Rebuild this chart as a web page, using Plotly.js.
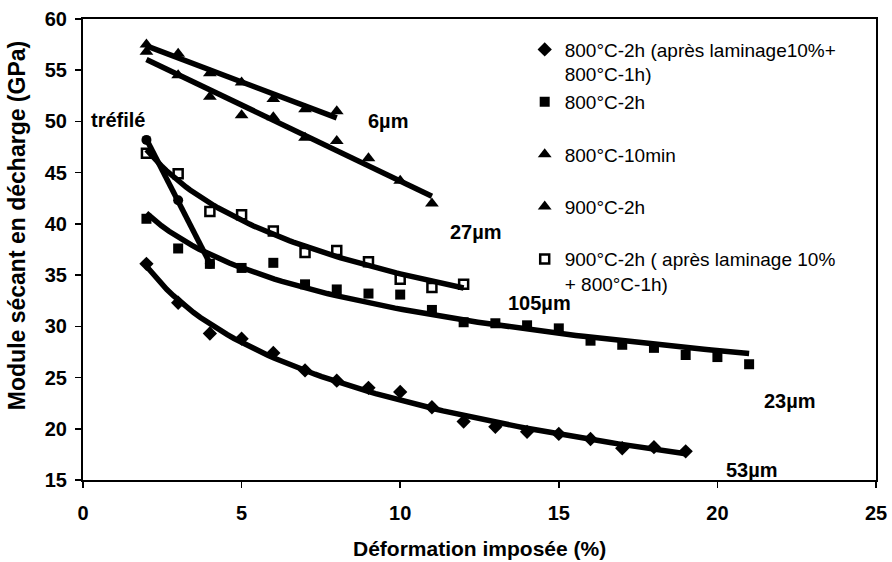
<!DOCTYPE html>
<html>
<head>
<meta charset="utf-8">
<script src="https://cdn.plot.ly/plotly-3.0.1.min.js"></script>
<style>html,body{margin:0;padding:0;background:#fff;}#chart{width:892px;height:562px;}</style>
</head>
<body>
<div id="chart"></div>
<script>
// ---- data ----
const diamondX = [2,3,4,5,6,7,8,9,10,11,12,13,14,15,16,17,18,19];
const diamondY = [36.1,32.3,29.3,28.8,27.4,25.7,24.7,24.0,23.6,22.1,20.7,20.2,19.7,19.5,19.0,18.1,18.2,17.8];

const filledSqX = [2,3,4,5,6,7,8,9,10,11,12,13,14,15,16,17,18,19,20,21];
const filledSqY = [40.5,37.6,36.1,35.7,36.2,34.1,33.6,33.2,33.1,31.6,30.4,30.3,30.1,29.8,28.6,28.2,27.9,27.2,27.0,26.3];

const tri10minX = [2,3,4,5,6,7,8];
const tri10minY = [57.5,56.6,54.7,53.8,52.2,51.2,51.0];

const tri900X = [2,3,4,5,6,7,8,9,10,11];
const tri900Y = [56.8,54.5,52.4,50.6,50.4,48.4,48.1,46.4,44.2,42.0];

const openSqX = [2,3,4,5,6,7,8,9,10,11,12];
const openSqY = [46.9,44.9,41.2,40.9,39.3,37.2,37.4,36.3,34.6,33.8,34.1];

const trefileX = [2,3,4];
const trefileY = [48.2,42.3,36.1];

const seriesNames = [
  "800°C-2h (après laminage10%+<br>800°C-1h)",
  "800°C-2h<br>\u00a0",
  "800°C-10min<br>\u00a0",
  "900°C-2h<br>\u00a0",
  "900°C-2h ( après laminage 10%<br>+ 800°C-1h)"
];

const labelTexts = ["tréfilé","6µm","27µm","105µm","23µm","53µm"];
const labelX = [1.1, 9.6, 12.4, 14.4, 22.3, 21.1];
const labelY = [50.1, 50.0, 39.2, 32.3, 22.7, 16.0];

const xTitle = "Déformation imposée (%)";
const yTitle = "Module sécant en décharge (GPa)";

// ---- trendlines (least squares, as Excel does) ----
function fit(xs, ys, tf) {
  const n = xs.length;
  const u = xs.map(tf);
  const mu = u.reduce((a,b)=>a+b,0)/n;
  const my = ys.reduce((a,b)=>a+b,0)/n;
  let sxy = 0, sxx = 0;
  for (let i=0;i<n;i++){ sxy += (u[i]-mu)*(ys[i]-my); sxx += (u[i]-mu)*(u[i]-mu); }
  const b = sxy/sxx, a = my - b*mu;
  return x => a + b*tf(x);
}
function trend(xs, ys, kind) {
  const f = fit(xs, ys, kind === 'log' ? Math.log : (x=>x));
  const x0 = Math.min(...xs), x1 = Math.max(...xs);
  const tx = [], ty = [];
  const steps = 80;
  for (let i=0;i<=steps;i++){ const x = x0 + (x1-x0)*i/steps; tx.push(x); ty.push(f(x)); }
  return {x: tx, y: ty};
}

const lineStyle = {color:'#000', width:5.5};
function trendTrace(xs, ys, kind) {
  const t = trend(xs, ys, kind);
  return {x:t.x, y:t.y, mode:'lines', line:lineStyle, showlegend:false, hoverinfo:'skip'};
}

const font = "'Liberation Sans', Arial, sans-serif";

const traces = [
  trendTrace(diamondX, diamondY, 'log'),
  trendTrace(filledSqX, filledSqY, 'log'),
  trendTrace(tri10minX, tri10minY, 'lin'),
  trendTrace(tri900X, tri900Y, 'lin'),
  trendTrace(openSqX, openSqY, 'log'),
  trendTrace(trefileX, trefileY, 'lin'),
  {x:trefileX, y:trefileY, mode:'markers', showlegend:false,
   marker:{symbol:'circle', size:10, color:'#000'}},
  {x:diamondX, y:diamondY, name:seriesNames[0], mode:'markers', legendgroup:'a',
   marker:{symbol:'diamond', size:11, color:'#000'}},
  {x:filledSqX, y:filledSqY, name:seriesNames[1], mode:'markers', legendgroup:'b',
   marker:{symbol:'square', size:10, color:'#000'}},
  {x:tri10minX, y:tri10minY, name:seriesNames[2], mode:'markers', legendgroup:'c',
   marker:{symbol:'triangle-up', size:12, color:'#000'}},
  {x:tri900X, y:tri900Y, name:seriesNames[3], mode:'markers', legendgroup:'d',
   marker:{symbol:'triangle-up', size:12, color:'#000'}},
  {x:openSqX, y:openSqY, name:seriesNames[4], mode:'markers', legendgroup:'e',
   marker:{symbol:'square-open', size:9, color:'#000', line:{width:2.5, color:'#000'}}}
];

const annotations = labelTexts.map((t,i)=>({
  x:labelX[i], y:labelY[i], xref:'x', yref:'y', text:t, showarrow:false,
  font:{family:font, size:20, color:'#000', weight:'bold'}
}));
annotations.push({x:0.5, y:-0.148, xref:'paper', yref:'paper', text:xTitle, showarrow:false,
  xanchor:'center', yanchor:'middle', font:{family:font, size:21, color:'#000', weight:'bold'}});
annotations.push({x:-0.083, y:0.551, xref:'paper', yref:'paper', text:yTitle, showarrow:false,
  textangle:-90, xanchor:'center', yanchor:'middle', font:{family:font, size:23, color:'#000', weight:'bold'}});

const layout = {
  width:892, height:562,
  margin:{l:83, r:16, t:19, b:82},
  paper_bgcolor:'#fff', plot_bgcolor:'#fff',
  showlegend:true,
  legend:{x:0.557, y:0.975, xanchor:'left', yanchor:'top', bgcolor:'rgba(0,0,0,0)',
    font:{family:font, size:19, color:'#000'}, valign:'top', traceorder:'grouped', tracegroupgap:0},
  xaxis:{range:[0,25], dtick:5, tick0:0, ticks:'outside', ticklen:6, tickwidth:1.5, tickcolor:'#000',
    showline:true, linecolor:'#000', linewidth:2, mirror:true, showgrid:false, zeroline:false,
    ticklabelstandoff:8,
    tickfont:{family:font, size:20, color:'#000', weight:'bold'}},
  yaxis:{range:[15,60], dtick:5, tick0:15, ticks:'outside', ticklen:6, tickwidth:1.5, tickcolor:'#000',
    showline:true, linecolor:'#000', linewidth:2, mirror:true, showgrid:false, zeroline:false,
    ticklabelstandoff:4,
    tickfont:{family:font, size:20, color:'#000', weight:'bold'}},
  annotations:annotations
};

Plotly.newPlot('chart', traces, layout, {displayModeBar:false, staticPlot:true});
</script>
</body>
</html>
